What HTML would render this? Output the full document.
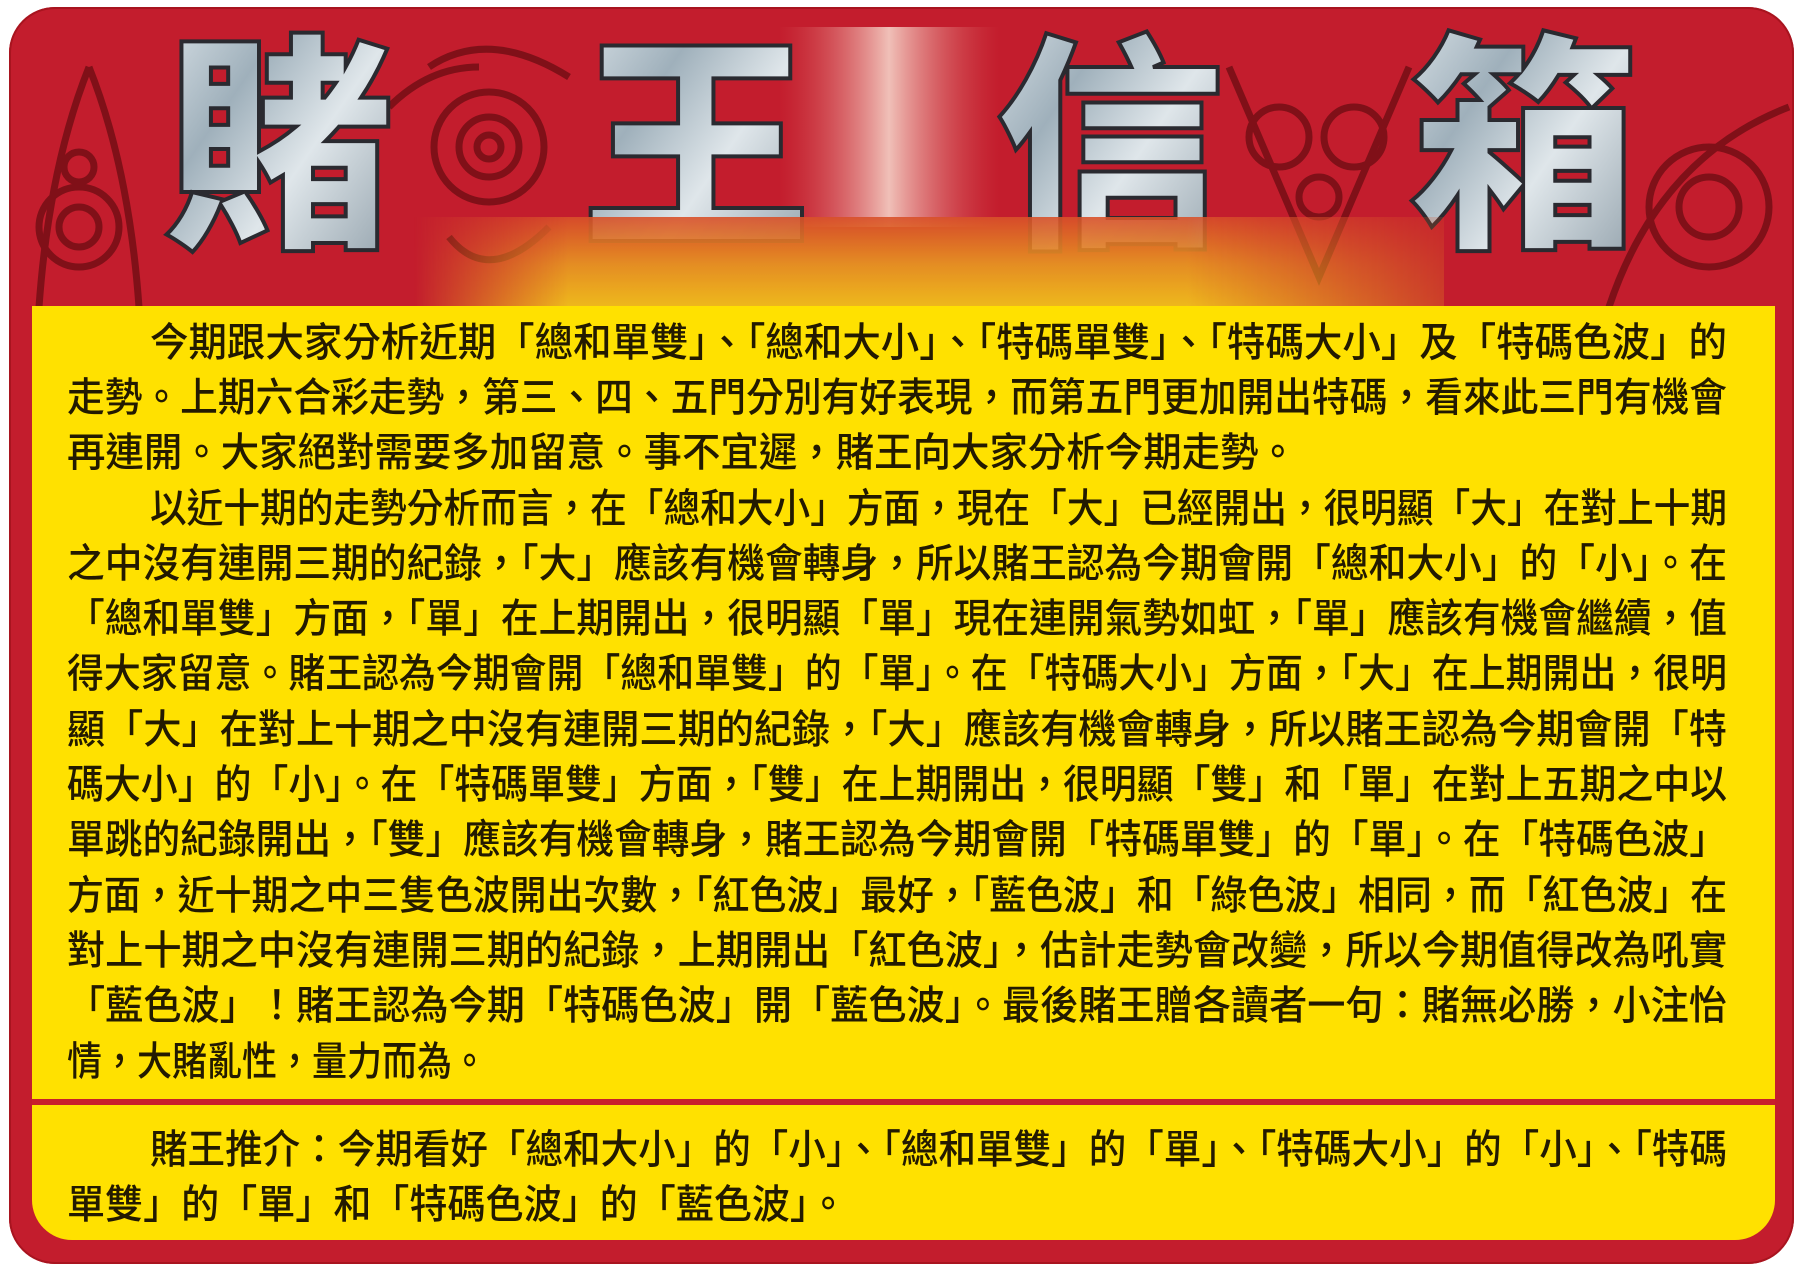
<!DOCTYPE html>
<html><head><meta charset="utf-8">
<style>
html,body{margin:0;padding:0;background:#fff;}
body{width:1800px;height:1272px;position:relative;overflow:hidden;font-family:"Liberation Sans","Noto Sans CJK TC",sans-serif;}
#frame{position:absolute;left:9px;top:7px;width:1785px;height:1257px;background:#c31d2d;border-radius:46px;box-shadow:0 0 0 2px #a8141f inset;overflow:hidden;}
#header{position:absolute;left:0;top:0;width:1785px;height:300px;}
#panel{position:absolute;left:23px;top:299px;width:1743px;height:934px;background:#ffe100;border-radius:0 0 40px 40px;}
#divider{position:absolute;left:0;top:793px;width:1743px;height:6px;background:#c8202c;}
.ln{position:absolute;left:0;height:48px;line-height:48px;font-size:40px;font-weight:500;color:#231a00;white-space:nowrap;transform-origin:0 50%;font-family:"Liberation Sans","Noto Sans CJK TC",sans-serif;}
</style></head>
<body>
<div id="frame">
 <svg id="header" width="1785" height="300" viewBox="0 0 1785 300">
  <defs>
   <linearGradient id="silver" x1="0" y1="0" x2="1" y2="1">
    <stop offset="0" stop-color="#e8eef2"/><stop offset="0.35" stop-color="#9fb0bb"/>
    <stop offset="0.6" stop-color="#dfe6ea"/><stop offset="1" stop-color="#8797a2"/>
   </linearGradient>
   <linearGradient id="glowv" x1="0" y1="0" x2="0" y2="1">
    <stop offset="0" stop-color="#d8502a"/><stop offset="0.5" stop-color="#e89a22"/><stop offset="1" stop-color="#f4d01a"/>
   </linearGradient>
   <linearGradient id="glowh" x1="0" y1="0" x2="1" y2="0">
    <stop offset="0" stop-color="#fff" stop-opacity="0"/><stop offset="0.15" stop-color="#fff" stop-opacity="0.9"/><stop offset="0.75" stop-color="#fff" stop-opacity="0.9"/><stop offset="1" stop-color="#fff" stop-opacity="0.2"/>
   </linearGradient>
   <mask id="gm"><rect x="405" y="210" width="1030" height="95" fill="url(#glowh)"/></mask>
   <linearGradient id="pink" x1="0" y1="0" x2="1" y2="0">
    <stop offset="0" stop-color="#d85a5a" stop-opacity="0"/><stop offset="0.5" stop-color="#f0c0b8"/><stop offset="1" stop-color="#d85a5a" stop-opacity="0"/>
   </linearGradient>
  </defs>
  <g fill="none" stroke="#6a0c12" stroke-width="7" opacity="0.75">
   <path d="M80 60 Q40 160 30 300 M80 60 Q120 160 130 300"/>
   <circle cx="70" cy="220" r="40"/><circle cx="70" cy="220" r="20"/><circle cx="70" cy="160" r="15"/>
   <circle cx="480" cy="140" r="55"/><circle cx="480" cy="140" r="30"/><circle cx="480" cy="140" r="12"/>
   <path d="M420 60 Q480 20 560 70 M440 230 Q480 280 540 220 M380 100 Q420 60 470 60"/>
   <path d="M1220 60 L1310 270 L1400 60"/>
   <circle cx="1270" cy="130" r="30"/><circle cx="1345" cy="130" r="30"/><circle cx="1310" cy="190" r="20"/>
   <circle cx="1700" cy="200" r="60"/><circle cx="1700" cy="200" r="30"/>
   <path d="M1600 300 Q1650 150 1780 100"/>
  </g>
  <rect x="770" y="20" width="220" height="200" fill="url(#pink)"/>
  <g font-family="'Noto Sans CJK TC','Noto Sans CJK SC',sans-serif" font-weight="900" font-size="230" fill="url(#silver)" stroke="#2a2a30" stroke-width="4" text-anchor="middle">
   <text x="270" y="222">賭</text>
   <text x="687" y="222">王</text>
   <text x="1101" y="222">信</text>
   <text x="1515" y="222">箱</text>
  </g>
  <rect x="405" y="210" width="1030" height="95" fill="url(#glowv)" mask="url(#gm)"/>
 </svg>
 <div id="panel">
  <div class="ln" data-fit="1" style="top:13px;left:118px" data-w="1577">今期跟大家分析近期「總和單雙」、「總和大小」、「特碼單雙」、「特碼大小」及「特碼色波」的</div>
  <div class="ln" data-fit="1" style="top:68px;left:35px" data-w="1660">走勢。上期六合彩走勢，第三、四、五門分別有好表現，而第五門更加開出特碼，看來此三門有機會</div>
  <div class="ln" style="top:123px;left:35px" data-w="1230" data-fit="1">再連開。大家絕對需要多加留意。事不宜遲，賭王向大家分析今期走勢。</div>
  <div class="ln" data-fit="1" style="top:179px;left:118px" data-w="1577">以近十期的走勢分析而言，在「總和大小」方面，現在「大」已經開出，很明顯「大」在對上十期</div>
  <div class="ln" data-fit="1" style="top:234px;left:35px" data-w="1660">之中沒有連開三期的紀錄，「大」應該有機會轉身，所以賭王認為今期會開「總和大小」的「小」。在</div>
  <div class="ln" data-fit="1" style="top:289px;left:35px" data-w="1660">「總和單雙」方面，「單」在上期開出，很明顯「單」現在連開氣勢如虹，「單」應該有機會繼續，值</div>
  <div class="ln" data-fit="1" style="top:344px;left:35px" data-w="1660">得大家留意。賭王認為今期會開「總和單雙」的「單」。在「特碼大小」方面，「大」在上期開出，很明</div>
  <div class="ln" data-fit="1" style="top:400px;left:35px" data-w="1660">顯「大」在對上十期之中沒有連開三期的紀錄，「大」應該有機會轉身，所以賭王認為今期會開「特</div>
  <div class="ln" data-fit="1" style="top:455px;left:35px" data-w="1660">碼大小」的「小」。在「特碼單雙」方面，「雙」在上期開出，很明顯「雙」和「單」在對上五期之中以</div>
  <div class="ln" data-fit="1" style="top:510px;left:35px" data-w="1660">單跳的紀錄開出，「雙」應該有機會轉身，賭王認為今期會開「特碼單雙」的「單」。在「特碼色波」</div>
  <div class="ln" data-fit="1" style="top:566px;left:35px" data-w="1660">方面，近十期之中三隻色波開出次數，「紅色波」最好，「藍色波」和「綠色波」相同，而「紅色波」在</div>
  <div class="ln" data-fit="1" style="top:621px;left:35px" data-w="1660">對上十期之中沒有連開三期的紀錄，上期開出「紅色波」，估計走勢會改變，所以今期值得改為吼實</div>
  <div class="ln" data-fit="1" style="top:676px;left:35px" data-w="1660">「藍色波」！賭王認為今期「特碼色波」開「藍色波」。最後賭王贈各讀者一句：賭無必勝，小注怡</div>
  <div class="ln" data-fit="1" style="top:732px;left:35px" data-w="420">情，大賭亂性，量力而為。</div>
  <div id="divider"></div>
  <div class="ln" data-fit="1" style="top:820px;left:118px" data-w="1577">賭王推介：今期看好「總和大小」的「小」、「總和單雙」的「單」、「特碼大小」的「小」、「特碼</div>
  <div class="ln" data-fit="1" style="top:875px;left:35px" data-w="780">單雙」的「單」和「特碼色波」的「藍色波」。</div>
 </div>
</div>
<script>
document.querySelectorAll('.ln[data-fit]').forEach(function(el){
  var w = el.scrollWidth, t = +el.getAttribute('data-w');
  if (w > 0) el.style.transform = 'scaleX(' + (t / w) + ')';
});
</script>
</body></html>
